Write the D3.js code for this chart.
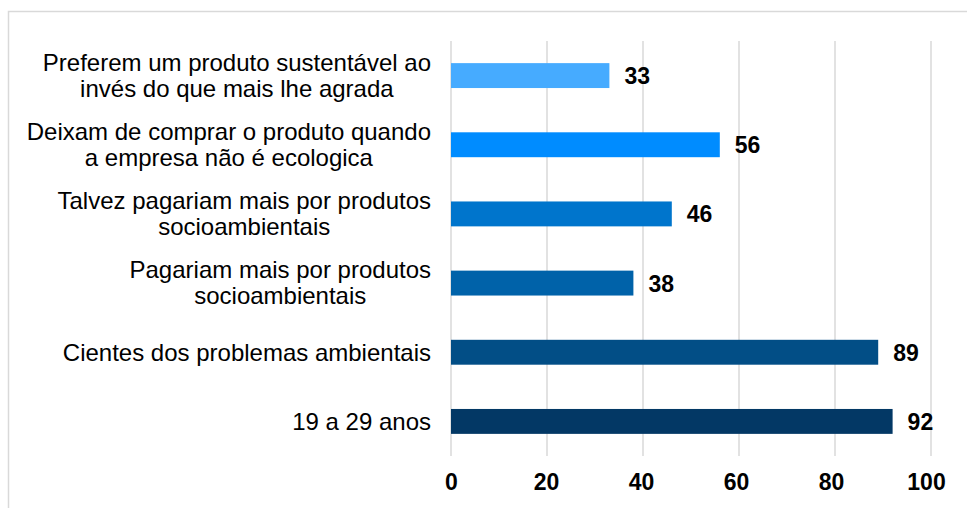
<!DOCTYPE html>
<html>
<head>
<meta charset="utf-8">
<script src="https://cdn.jsdelivr.net/npm/d3@7"></script>
<style>
  body { margin: 0; background: #fff; }
  svg text { font-family: "Liberation Sans", Arial, sans-serif; }
</style>
</head>
<body>
<div id="the_chart"></div>
<script>
// top to bottom, "\n" marks a line break in the label
var categories = [
    "Preferem um produto sustentável ao\ninvés do que mais lhe agrada",
    "Deixam de comprar o produto quando\na empresa não é ecologica",
    "Talvez pagariam mais por produtos\nsocioambientais",
    "Pagariam mais por produtos\nsocioambientais",
    "Cientes dos problemas ambientais",
    "19 a 29 anos"
];
var values = [33, 56, 46, 38, 89, 92];
var colors = ["#46abff", "#008cff", "#0075cc", "#0062a9", "#024e86", "#033865"];
var ticks = [0, 20, 40, 60, 80, 100];

gen_vis();

function gen_vis() {
    var w = 967, h = 508;
    var left = 451, right = 931, top = 41, bottom = 456;

    var svg = d3.select("#the_chart").append("svg")
        .attr("width", w)
        .attr("height", h);

    // chart frame
    svg.append("rect")
        .attr("x", 8.5).attr("y", 11.5)
        .attr("width", 1000).attr("height", 600)
        .attr("fill", "none")
        .attr("stroke", "#d9d9d9")
        .attr("stroke-width", 1.5);

    var xscale = d3.scaleLinear()
        .domain([0, 100])
        .range([left, right]);
    var yscale = d3.scaleBand()
        .domain(categories)
        .range([top, bottom])
        .paddingInner(0.64)
        .paddingOuter(0.32);

    // gridlines
    svg.selectAll("line.grid")
        .data(ticks)
        .enter().append("line")
        .attr("class", "grid")
        .attr("x1", function(d) { return xscale(d); })
        .attr("x2", function(d) { return xscale(d); })
        .attr("y1", top)
        .attr("y2", bottom)
        .attr("stroke", "#d9d9d9")
        .attr("stroke-width", 1.5);

    // x axis labels (the original squeezes them a little to the left)
    var xaxis = d3.axisBottom(xscale.copy().range([left, right - 5]))
        .tickValues(ticks)
        .tickSize(0)
        .tickPadding(0);
    var gx = svg.append("g")
        .attr("transform", "translate(0," + 490 + ")")
        .call(xaxis);
    gx.select(".domain").remove();
    gx.selectAll("text")
        .attr("dy", 0)
        .attr("y", 0)
        .attr("fill", "#000")
        .style("font-size", "23px")
        .style("font-weight", "bold")
        .style("font-family", "'Liberation Sans', Arial, sans-serif");

    // bars
    svg.selectAll("rect.bar")
        .data(values)
        .enter().append("rect")
        .attr("class", "bar")
        .attr("x", xscale(0))
        .attr("y", function(d, i) { return yscale(categories[i]); })
        .attr("width", function(d) { return xscale(d) - xscale(0); })
        .attr("height", yscale.bandwidth())
        .attr("fill", function(d, i) { return colors[i]; });

    // value labels
    svg.selectAll("text.val")
        .data(values)
        .enter().append("text")
        .attr("class", "val")
        .attr("x", function(d) { return xscale(d) + 15; })
        .attr("y", function(d, i) { return yscale(categories[i]) + yscale.bandwidth() / 2 + 8.5; })
        .attr("font-size", "23px")
        .attr("font-weight", "bold")
        .attr("fill", "#000")
        .text(function(d) { return d; });

    // category labels, lines centred, block right-aligned
    var lineH = 26, fs = 24, labelRight = 431;
    categories.forEach(function(c) {
        var lines = c.split("\n");
        var cy = yscale(c) + yscale.bandwidth() / 2;
        var g = svg.append("g");
        var texts = g.selectAll("text")
            .data(lines)
            .enter().append("text")
            .attr("font-size", fs + "px")
            .attr("fill", "#000")
            .attr("text-anchor", "middle")
            .attr("y", function(d, i) { return cy + (i - (lines.length - 1) / 2) * lineH + fs * 0.35; })
            .text(function(d) { return d; });
        var maxW = 0;
        texts.each(function() { maxW = Math.max(maxW, this.getComputedTextLength()); });
        texts.attr("x", labelRight - maxW / 2);
    });
}
</script>
</body>
</html>
